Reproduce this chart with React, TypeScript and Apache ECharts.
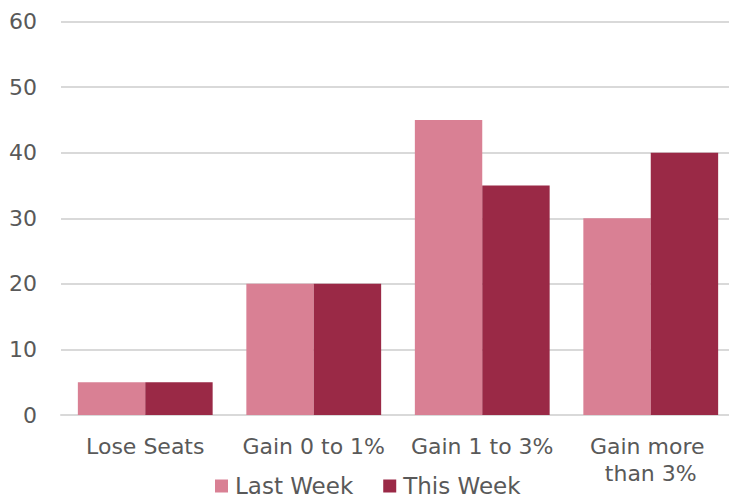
import React, { useEffect, useRef } from "react";
import * as echarts from "echarts";

const categories = ["Lose Seats", "Gain 0 to 1%", "Gain 1 to 3%", "Gain more than 3%"];
const lastWeek = [5, 20, 45, 30];
const thisWeek = [5, 20, 35, 40];
const seriesNames = ["Last Week", "This Week"];

export default function App() {
  const ref = useRef<HTMLDivElement>(null);
  useEffect(() => {
    document.body.style.margin = "0";
    const chart = echarts.init(ref.current!, null, { renderer: "svg" });
    const font = "DejaVu Sans";
    const textColor = "#595959";
    chart.setOption({
      animation: false,
      grid: { left: 61, top: 21.5, width: 674, height: 393.5, outerBoundsMode: "none", containLabel: false },
      legend: {
        data: seriesNames,
        left: 215,
        top: 474.5,
        padding: 0,
        itemWidth: 13,
        itemHeight: 13,
        itemGap: 30,
        icon: "rect",
        textStyle: { fontFamily: font, fontSize: 23, lineHeight: 22, color: textColor, padding: [0, 0, 0, 2] },
      },
      xAxis: {
        type: "category",
        data: categories,
        axisLine: { lineStyle: { color: "#D9D9D9", width: 2 } },
        axisTick: { show: false },
        axisLabel: {
          fontFamily: font,
          fontSize: 22,
          color: textColor,
          margin: 18,
          lineHeight: 27,
          width: 160,
          overflow: "break",
          interval: 0,
        },
      },
      yAxis: {
        type: "value",
        min: 0,
        max: 60,
        interval: 10,
        axisLine: { show: false },
        axisTick: { show: false },
        splitLine: { lineStyle: { color: "#D9D9D9", width: 2 } },
        axisLabel: { fontFamily: font, fontSize: 22, color: textColor, margin: 24 },
      },
      series: [
        {
          name: seriesNames[0],
          type: "bar",
          data: lastWeek,
          barGap: "0%",
          barCategoryGap: "20%",
          itemStyle: { color: "#D98094" },
        },
        {
          name: seriesNames[1],
          type: "bar",
          data: thisWeek,
          barGap: "0%",
          barCategoryGap: "20%",
          itemStyle: { color: "#9A2946" },
        },
      ],
    });
    return () => chart.dispose();
  }, []);
  return <div ref={ref} style={{ width: 729, height: 499 }} />;
}
